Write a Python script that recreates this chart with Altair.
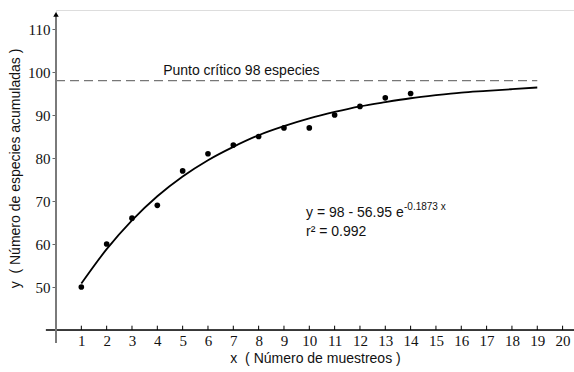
import altair as alt
import pandas as pd

# observed data
obs_x = [1, 2, 3, 4, 5, 6, 7, 8, 9, 10, 11, 12, 13, 14]
obs_y = [50, 60, 66, 69, 77, 81, 83, 85, 87, 87, 90, 92, 94, 95]

# fitted curve
fit_x = [1, 2, 3, 4, 5, 6, 7, 8, 9, 10, 11, 12, 13, 14, 15, 16, 17, 18, 19]
fit_y = [50.8, 58.8, 65.5, 71.1, 75.7, 79.5, 82.6, 85.3, 87.4, 89.2,
         90.7, 92.0, 93.0, 93.9, 94.6, 95.2, 95.6, 96.0, 96.4]

x_ticks = list(range(1, 21))
y_ticks = [50, 60, 70, 80, 90, 100, 110]

critical_value = 98
critical_x = [0, 19]
critical_label = "Punto crítico 98 especies"
eq_main = "y = 98 - 56.95 e"
eq_sup = "-0.1873 x"
r2_text = "r² = 0.992"

NB = "\u00a0"
x_title = "x" + NB + NB + "(" + NB + "Número de muestreos" + NB + ")"
y_title = "y" + NB + NB + "(" + NB + "Número de especies acumuladas" + NB + ")"

X_DOMAIN = [0, 20.45]
Y_DOMAIN = [40, 114.42]

xs = alt.Scale(domain=X_DOMAIN, nice=False, zero=False)
ys = alt.Scale(domain=Y_DOMAIN, nice=False, zero=False)

x_axis = alt.Axis(values=x_ticks, domain=False, ticks=False, grid=False,
                  labelFont="Liberation Serif", labelFontSize=15, labelColor="#111",
                  labelPadding=3, labelFlush=False, labelOverlap=False,
                  title=x_title, titleFont="Liberation Sans",
                  titleFontSize=14, titleFontWeight="normal", titleColor="#111",
                  titleBaseline="middle", titleY=28)
y_axis = alt.Axis(values=y_ticks, domain=False, ticks=True, tickSize=4,
                  tickColor="#666", grid=False,
                  labelFont="Liberation Serif", labelFontSize=15, labelColor="#111",
                  labelPadding=2, labelFlush=False, labelOverlap=False,
                  title=y_title,
                  titleFont="Liberation Sans", titleFontSize=14,
                  titleFontWeight="normal", titleColor="#111",
                  titleBaseline="middle", titleX=-41, titleY=158)

obs_df = pd.DataFrame({"x": obs_x, "y": obs_y})
fit_df = pd.DataFrame({"x": fit_x, "y": fit_y})
tick_df = pd.DataFrame({"x": x_ticks, "y": [40] * len(x_ticks), "y1": [41] * len(x_ticks)})
crit_df = pd.DataFrame({"x": critical_x, "y": [critical_value] * 2})


def X():
    return alt.X("x:Q", scale=xs, axis=x_axis, title=x_title)


def Y():
    return alt.Y("y:Q", scale=ys, axis=y_axis, title=y_title)


# x-axis line (extends slightly left of y axis)
x_line = alt.Chart(pd.DataFrame({"x": [-0.4], "x2": [20.45], "y": [40]})).mark_rule(
    color="#000", strokeWidth=1.3).encode(x=X(), x2="x2:Q", y=Y())

# y-axis line (gray, extends below x axis)
y_line = alt.Chart(pd.DataFrame({"x": [0], "y": [37.0], "y2": [113.4]})).mark_rule(
    color="#7a7a7a", strokeWidth=2).encode(x=X(), y=Y(), y2="y2:Q")

arrow = alt.Chart(pd.DataFrame({"x": [0], "y": [113.4]})).mark_point(
    shape="triangle-up", filled=True, color="#000", size=30, opacity=1).encode(x=X(), y=Y())

x_tick_marks = alt.Chart(tick_df).mark_rule(color="#000", strokeWidth=1).encode(
    x=X(), y=Y(), y2="y1:Q")

crit_line = alt.Chart(crit_df).mark_line(
    color="#777", strokeWidth=1.2, strokeDash=[9, 5]).encode(x=X(), y=Y())

fit_line = alt.Chart(fit_df).mark_line(
    color="#000", strokeWidth=1.8, interpolate="monotone").encode(x=X(), y=Y())

pts = alt.Chart(obs_df).mark_circle(color="#000", size=32, opacity=1).encode(x=X(), y=Y())

texts_df = pd.DataFrame({
    "x": [4.23, 9.87, 9.87],
    "y": [100.2, 67.2, 62.8],
    "t": [critical_label, eq_main, r2_text],
})
texts = alt.Chart(texts_df).mark_text(
    align="left", baseline="middle", font="Liberation Sans", fontSize=14, color="#111").encode(
    x=X(), y=Y(), text="t:N")

sup = alt.Chart(pd.DataFrame({"x": [9.87], "y": [67.2], "t": [eq_sup]})).mark_text(
    align="left", baseline="middle", font="Liberation Sans", fontSize=10, color="#111",
    dx=98, dy=-6).encode(x=X(), y=Y(), text="t:N")

chart = alt.layer(
    crit_line, x_line, y_line, arrow, x_tick_marks, fit_line, pts, texts, sup
).properties(
    width=518, height=320,
    autosize=alt.AutoSizeParams(type="none"),
    padding={"left": 56, "top": 10, "right": 0, "bottom": 42},
).configure_view(stroke=None).configure_axis(labelOverlap=False).configure(background="white")

chart.save("out.html", embed_options={"renderer": "svg", "actions": False})
